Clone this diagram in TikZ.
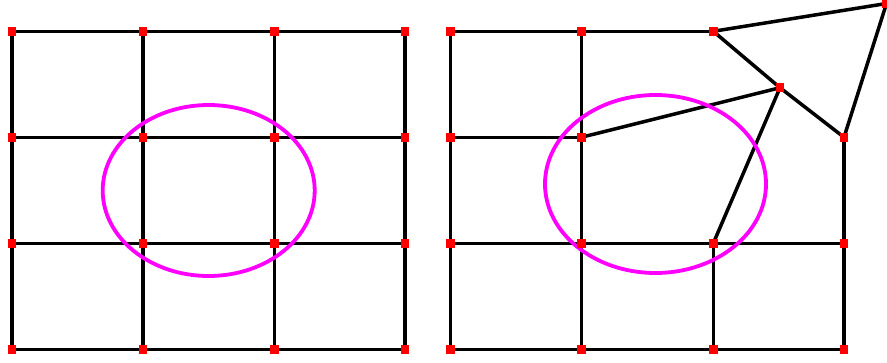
\documentclass[tikz,border=0pt]{standalone}
\begin{document}
\begin{tikzpicture}[x=1pt,y=-1pt,
  edge/.style={line width=3.5pt,black},
  pt/.style={fill=red,draw=none,minimum size=8.5pt,inner sep=0pt,outer sep=0pt,rectangle},
  ring/.style={line width=3.8pt,draw={rgb,255:red,255;green,0;blue,255}}]
\useasboundingbox (0,0) rectangle (887,362);
% left grid
\foreach \i/\x in {0/12,1/143,2/274.3,3/405}{
  \foreach \j/\y in {0/31.3,1/137.3,2/243.3,3/349.5}{
    \coordinate (L\i\j) at (\x,\y);
  }
}
\foreach \i in {0,1,2,3}{
  \draw[edge] (L\i0) -- (L\i3);
  \draw[edge] (L0\i) -- (L3\i);
}
\draw[ring] (208.7,190.5) ellipse (106 and 85.5);
\foreach \i in {0,1,2,3}{\foreach \j in {0,1,2,3}{\node[pt] (nL\i\j) at (L\i\j) {};}}
% right grid
\foreach \i/\x in {0/450.3,1/581.3,2/713.3,3/844}{
  \foreach \j/\y in {0/31.3,1/137.3,2/243.3,3/349.5}{
    \coordinate (R\i\j) at (\x,\y);
  }
}
\coordinate (A) at (780,87.7);
\coordinate (B) at (886.5,3.5);
\draw[edge] (R00) -- (R03);
\draw[edge] (R10) -- (R13);
\draw[edge] (R22) -- (R23);
\draw[edge] (R31) -- (R33);
\draw[edge] (R00) -- (R20);
\draw[edge] (R01) -- (R11);
\draw[edge] (R02) -- (R32);
\draw[edge] (R03) -- (R33);
\draw[edge] (R20) -- (B) -- (R31);
\draw[edge] (R20) -- (A) -- (R31);
\draw[edge] (R11) -- (A) -- (R22);
\draw[ring] (655.5,184) ellipse (110.5 and 89);
\foreach \c in {R00,R10,R20,R01,R11,R31,R02,R12,R22,R32,R03,R13,R23,R33,A,B}{\node[pt] (n\c) at (\c) {};}
\end{tikzpicture}
\end{document}
